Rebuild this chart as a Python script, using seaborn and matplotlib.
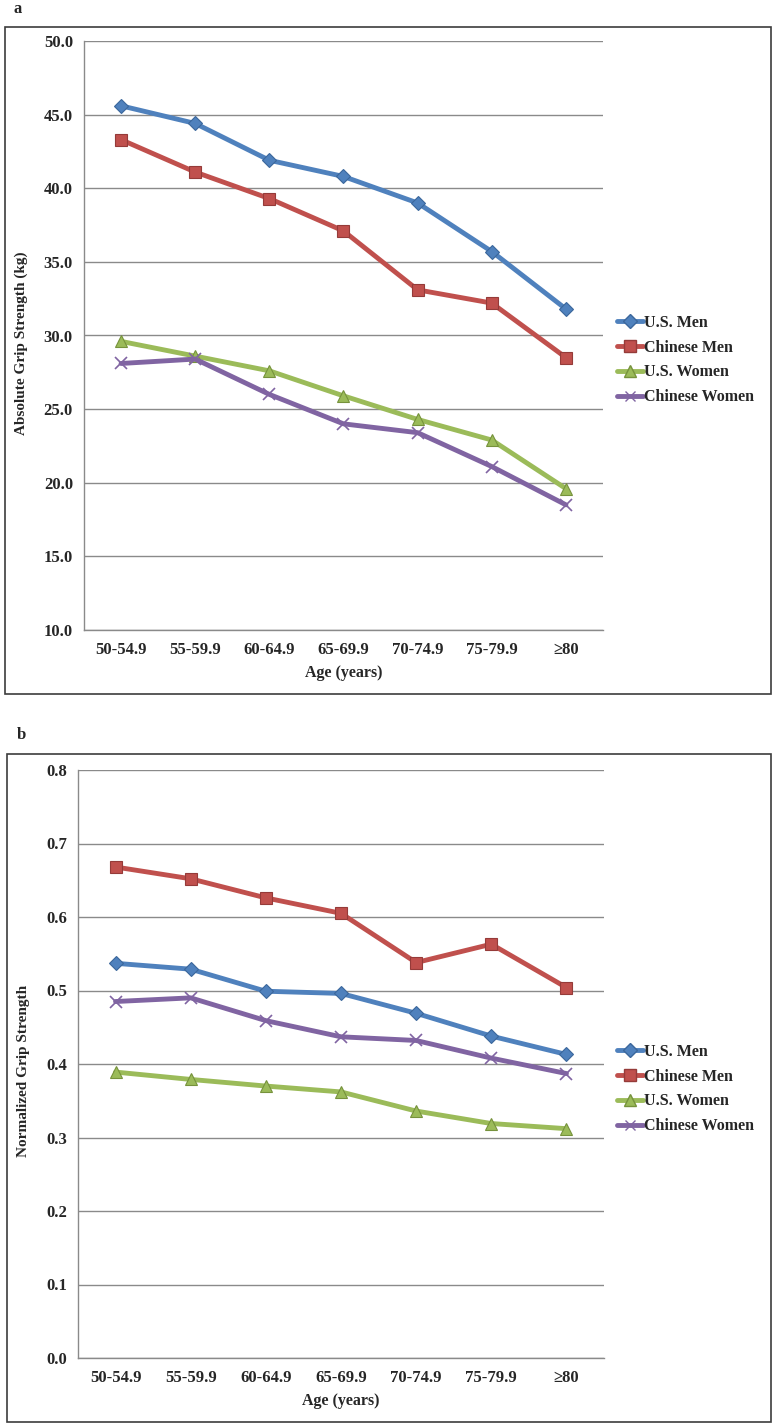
import numpy as np
import pandas as pd
import matplotlib
matplotlib.use("Agg")
import matplotlib.pyplot as plt
from matplotlib.patches import Rectangle
from matplotlib.lines import Line2D
import seaborn as sns

# categories
age_groups = ["50-54.9", "55-59.9", "60-64.9", "65-69.9", "70-74.9", "75-79.9", "\u226580"]
groups = ["U.S. Men", "Chinese Men", "U.S. Women", "Chinese Women"]

# panel a: absolute grip strength (kg)
abs_us_men = [45.6, 44.4, 41.9, 40.8, 39.0, 35.7, 31.8]
abs_cn_men = [43.3, 41.1, 39.3, 37.1, 33.1, 32.2, 28.5]
abs_us_women = [29.6, 28.6, 27.6, 25.9, 24.3, 22.9, 19.6]
abs_cn_women = [28.1, 28.4, 26.0, 24.0, 23.4, 21.1, 18.5]

# panel b: normalized grip strength
norm_us_men = [0.537, 0.529, 0.499, 0.496, 0.469, 0.438, 0.413]
norm_cn_men = [0.668, 0.652, 0.626, 0.605, 0.538, 0.563, 0.504]
norm_us_women = [0.389, 0.379, 0.370, 0.362, 0.336, 0.319, 0.312]
norm_cn_women = [0.485, 0.490, 0.459, 0.437, 0.432, 0.408, 0.387]

# styles (excel 2007 look)
line_colors = ["#4F81BD", "#C0504D", "#9BBB59", "#8064A2"]
edge_colors = ["#3B679C", "#953B39", "#76923C", "#8064A2"]
markers = ["D", "s", "^", "x"]
marker_sizes = [7.5, 9, 9, 8]

sns.set_style("white")
plt.rcParams['font.family'] = ['Liberation Serif', 'DejaVu Serif']
plt.rcParams['font.weight'] = 'bold'

W, H = 776, 1428
fig = plt.figure(figsize=(W / 100, H / 100), dpi=100)


def px_axes(left, top, right, bottom):
    return fig.add_axes([left / W, 1 - bottom / H, (right - left) / W, (bottom - top) / H])


def draw_panel(ax, series, ylim, yticks, fmt, ylabel, ylabel_xy):
    for vals, c, ec, m, ms in zip(series, line_colors, edge_colors, markers, marker_sizes):
        sns.lineplot(x=age_groups, y=vals, ax=ax, color=c, marker=m, markersize=ms,
                     markerfacecolor=c, markeredgecolor=ec,
                     markeredgewidth=1.2 if m == "x" else 0.8,
                     lw=3.5, sort=False, legend=False)
    ax.set_xlim(-0.5, 6.5)
    ax.set_ylim(*ylim)
    ax.set_yticks(yticks)
    ax.set_yticklabels([fmt % v for v in yticks])
    ax.yaxis.grid(True, color="#8a8a8a", lw=1)
    ax.xaxis.grid(False)
    ax.set_axisbelow(True)
    for s in ["top", "right"]:
        ax.spines[s].set_visible(False)
    for s in ["left", "bottom"]:
        ax.spines[s].set_color("#8a8a8a")
        ax.spines[s].set_linewidth(1)
    ax.tick_params(axis="both", length=0, labelsize=12)
    ax.tick_params(axis="x", pad=9)
    ax.tick_params(axis="y", pad=8)
    for lab in ax.get_xticklabels() + ax.get_yticklabels():
        lab.set_fontweight("bold")
    ax.set_xlabel("Age (years)", fontsize=11.5, fontweight="bold")
    ax.set_ylabel(ylabel, fontsize=11, fontweight="bold")
    ax.xaxis.set_label_coords(0.5, -0.060)
    ax.yaxis.set_label_coords(*ylabel_xy)


def draw_legend(y_center):
    handles = [Line2D([], [], color=c, marker=m, markersize=ms * 0.95, markerfacecolor=c,
                      markeredgecolor=ec, lw=3.5) for c, ec, m, ms in
               zip(line_colors, edge_colors, markers, marker_sizes)]
    fig.legend(handles, groups, loc="center left", bbox_to_anchor=(617 / W, 1 - y_center / H),
               frameon=False, handlelength=1.6, handletextpad=0.1,
               labelspacing=0.55, borderpad=0, borderaxespad=0,
               prop={"weight": "bold", "size": 11.5})


# panel a
ax_a = px_axes(84, 41, 603, 630)
draw_panel(ax_a, [abs_us_men, abs_cn_men, abs_us_women, abs_cn_women],
           (10, 50), np.arange(10, 50.1, 5), "%.1f",
           "Absolute Grip Strength (kg)", (-0.108, 0.486))
draw_legend(360)
fig.add_artist(Rectangle((5 / W, 1 - 694 / H), 766 / W, 667 / H, transform=fig.transFigure,
                         fill=False, ec="#3c3c3c", lw=1.2))
fig.text(18 / W, 1 - 9 / H, "a", fontsize=12, fontweight="bold", ha="center", va="center")

# panel b
ax_b = px_axes(78, 770, 604, 1358)
draw_panel(ax_b, [norm_us_men, norm_cn_men, norm_us_women, norm_cn_women],
           (0, 0.8), np.arange(0, 0.81, 0.1), "%.1f",
           "Normalized Grip Strength", (-0.091, 0.488))
draw_legend(1089)
fig.add_artist(Rectangle((7 / W, 1 - 1422 / H), 764 / W, 668 / H, transform=fig.transFigure,
                         fill=False, ec="#3c3c3c", lw=1.2))
fig.text(21 / W, 1 - 735 / H, "b", fontsize=12, fontweight="bold", ha="center", va="center")

fig.savefig("out.png", dpi=100)
